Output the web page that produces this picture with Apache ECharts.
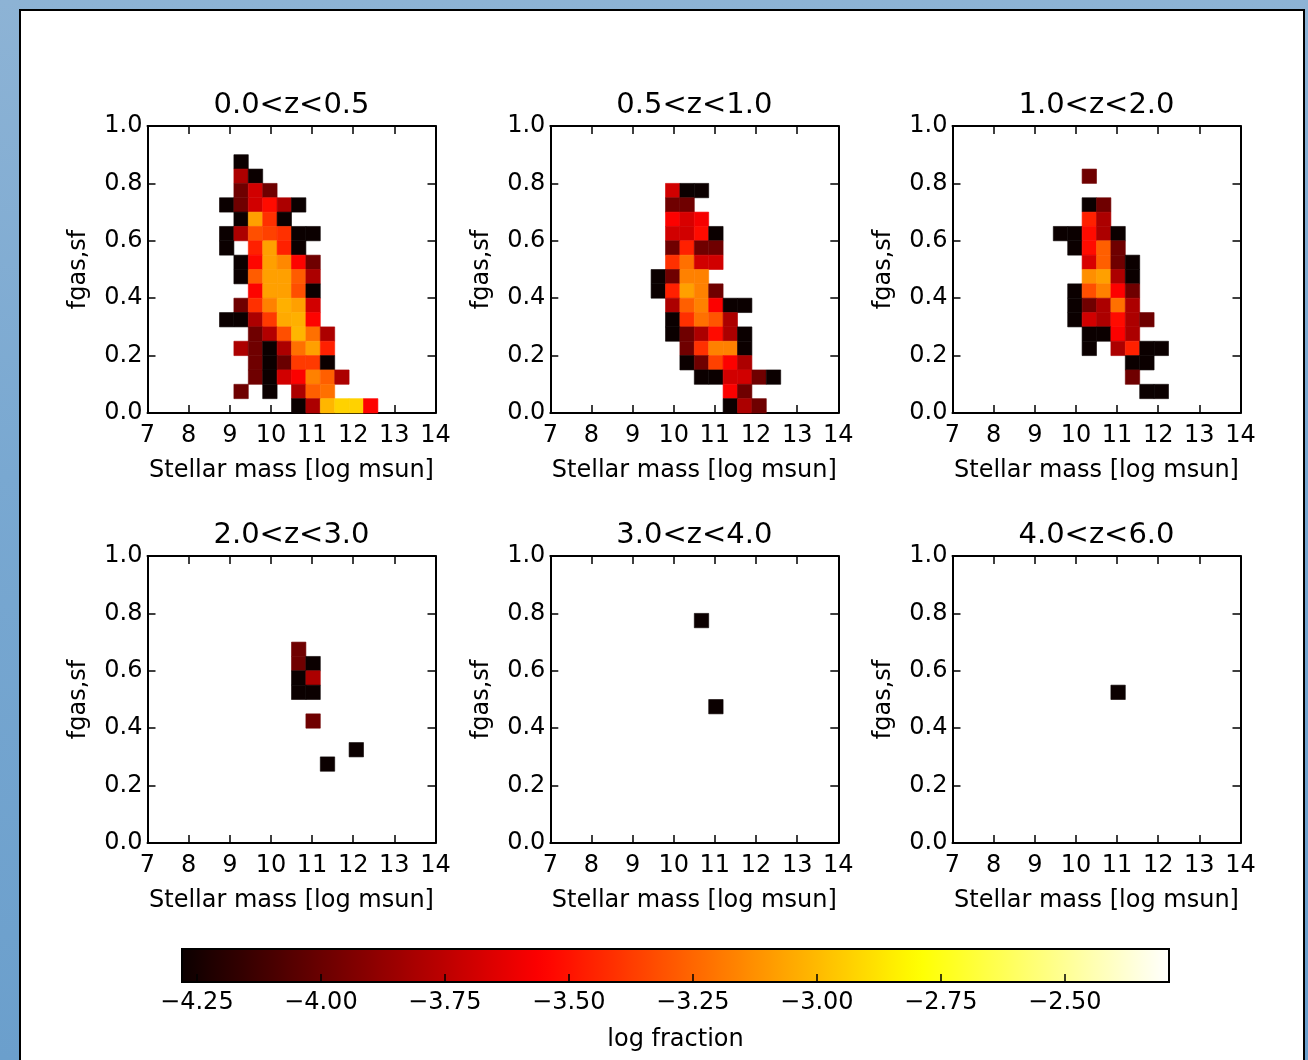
<!DOCTYPE html>
<html>
<head>
<meta charset="utf-8">
<title>Gas fraction vs stellar mass by redshift</title>
<script src="https://cdn.jsdelivr.net/npm/echarts@6/dist/echarts.min.js"></script>
<style>
  html, body { margin: 0; padding: 0; width: 1308px; height: 1060px; overflow: hidden; }
  body { background: linear-gradient(to bottom, #8db3d5 0%, #79a8d1 45%, #6b9fcc 100%); position: relative; }
  #sheet { position: absolute; left: 19px; top: 9px; width: 1282px; height: 1100px; background: #fff; border: 2.5px solid #000; }
  #chart { position: absolute; left: 0; top: 0; width: 1308px; height: 1060px; }
</style>
</head>
<body>
<div id="sheet"></div>
<div id="chart"></div>
<script>
// Histogram binning: stellar mass 7..14 in 20 bins, gas fraction 0..1 in 20 bins.
const MASS_MIN = 7, MASS_MAX = 14, MASS_BIN = 0.35;
const FGAS_MIN = 0, FGAS_MAX = 1, FGAS_BIN = 0.05;

// Colour scale limits (log fraction)
const LOGF_MIN = -4.28, LOGF_MAX = -2.29;
const colorbarTicks = [-4.25, -4.0, -3.75, -3.5, -3.25, -3.0, -2.75, -2.5];

const zBinLabels = ['0.0<z<0.5', '0.5<z<1.0', '1.0<z<2.0', '2.0<z<3.0', '3.0<z<4.0', '4.0<z<6.0'];

// Cells: [mass bin index, fgas bin index, log fraction]
const cellsZ0 = [
  [6,17,-4.28],
  [6,16,-3.80],[7,16,-4.28],
  [6,15,-3.98],[7,15,-3.69],[8,15,-3.98],
  [5,14,-4.28],[6,14,-3.98],[7,14,-3.69],[8,14,-3.52],[9,14,-3.80],[10,14,-4.28],
  [6,13,-4.28],[7,13,-3.08],[8,13,-3.41],[9,13,-4.28],
  [5,12,-4.28],[6,12,-3.80],[7,12,-3.32],[8,12,-3.36],[9,12,-3.41],[10,12,-4.28],[11,12,-4.28],
  [5,11,-4.28],[7,11,-3.46],[8,11,-3.08],[9,11,-3.46],[10,11,-4.28],
  [6,10,-4.28],[7,10,-3.54],[8,10,-3.08],[9,10,-3.15],[10,10,-3.55],[11,10,-3.98],
  [6,9,-4.28],[7,9,-3.28],[8,9,-3.08],[9,9,-3.08],[10,9,-3.28],[11,9,-3.80],
  [7,8,-3.55],[8,8,-3.08],[9,8,-3.08],[10,8,-3.32],[11,8,-4.28],
  [6,7,-3.98],[7,7,-3.41],[8,7,-3.17],[9,7,-3.03],[10,7,-3.08],[11,7,-3.69],
  [5,6,-4.28],[6,6,-4.28],[7,6,-3.80],[8,6,-3.38],[9,6,-3.05],[10,6,-3.03],[11,6,-3.55],
  [7,5,-3.98],[8,5,-3.78],[9,5,-3.32],[10,5,-3.01],[11,5,-3.22],[12,5,-3.80],
  [6,4,-3.80],[7,4,-3.98],[8,4,-4.28],[9,4,-3.80],[10,4,-3.22],[11,4,-3.08],[12,4,-3.46],
  [7,3,-3.98],[8,3,-4.28],[9,3,-4.00],[10,3,-3.38],[11,3,-3.38],[12,3,-4.28],
  [7,2,-3.98],[8,2,-4.28],[9,2,-3.69],[10,2,-3.56],[11,2,-3.17],[12,2,-3.27],[13,2,-3.80],
  [6,1,-3.98],[8,1,-4.28],[10,1,-3.80],[11,1,-3.27],[12,1,-3.22],
  [10,0,-4.28],[11,0,-3.80],[12,0,-3.01],[13,0,-2.93],[14,0,-2.93],[15,0,-3.55]
];

const cellsZ1 = [
  [8,15,-3.69],[9,15,-4.28],[10,15,-4.28],
  [8,14,-3.98],[9,14,-3.98],
  [8,13,-3.56],[9,13,-3.67],[10,13,-3.58],
  [8,12,-3.69],[9,12,-3.69],[10,12,-3.52],[11,12,-4.28],
  [8,11,-3.98],[9,11,-3.46],[10,11,-3.98],[11,11,-3.98],
  [8,10,-3.41],[9,10,-3.22],[10,10,-3.69],[11,10,-3.69],
  [7,9,-4.28],[8,9,-3.98],[9,9,-3.17],[10,9,-3.17],
  [7,8,-4.28],[8,8,-3.46],[9,8,-3.08],[10,8,-3.17],[11,8,-3.98],
  [8,7,-3.80],[9,7,-3.27],[10,7,-3.17],[11,7,-3.56],[12,7,-4.28],[13,7,-4.28],
  [8,6,-4.28],[9,6,-3.41],[10,6,-3.22],[11,6,-3.30],[12,6,-3.80],
  [8,5,-4.28],[9,5,-3.98],[10,5,-3.80],[11,5,-3.52],[12,5,-3.80],[13,5,-4.28],
  [9,4,-3.98],[10,4,-3.41],[11,4,-3.17],[12,4,-3.17],[13,4,-4.28],
  [9,3,-4.28],[10,3,-3.98],[11,3,-3.36],[12,3,-3.56],[13,3,-3.80],
  [10,2,-4.28],[11,2,-4.28],[12,2,-3.69],[13,2,-3.69],[14,2,-3.98],[15,2,-4.28],
  [12,1,-3.56],[13,1,-3.98],
  [12,0,-4.28],[13,0,-3.80],[14,0,-3.98]
];

const cellsZ2 = [
  [9,16,-3.98],
  [9,14,-4.28],[10,14,-3.98],
  [9,13,-3.46],[10,13,-3.80],
  [7,12,-4.28],[8,12,-4.28],[9,12,-3.52],[10,12,-3.80],[11,12,-4.28],
  [8,11,-4.28],[9,11,-3.52],[10,11,-3.27],[11,11,-3.98],
  [9,10,-3.67],[10,10,-3.27],[11,10,-3.98],[12,10,-4.28],
  [9,9,-3.13],[10,9,-3.08],[11,9,-3.80],[12,9,-4.28],
  [8,8,-4.28],[9,8,-3.32],[10,8,-3.17],[11,8,-3.56],[12,8,-3.98],
  [8,7,-4.28],[9,7,-3.98],[10,7,-3.80],[11,7,-3.22],[12,7,-3.80],
  [8,6,-4.28],[9,6,-3.69],[10,6,-3.80],[11,6,-3.52],[12,6,-3.80],[13,6,-3.98],
  [9,5,-4.28],[10,5,-4.28],[11,5,-3.56],[12,5,-3.80],
  [9,4,-4.28],[11,4,-3.80],[12,4,-3.46],[13,4,-4.28],[14,4,-4.28],
  [12,3,-4.28],[13,3,-4.28],
  [12,2,-3.98],
  [13,1,-4.28],[14,1,-4.28]
];

const cellsZ3 = [
  [10,13,-3.98],
  [10,12,-3.98],[11,12,-4.28],
  [10,11,-4.28],[11,11,-3.80],
  [10,10,-4.28],[11,10,-4.28],
  [11,8,-3.98],
  [14,6,-4.28],
  [12,5,-4.28]
];

const cellsZ4 = [
  [10,15,-4.28],
  [11,9,-4.28]
];

const cellsZ5 = [
  [11,10,-4.28]
];

const panelCells = [cellsZ0, cellsZ1, cellsZ2, cellsZ3, cellsZ4, cellsZ5];

// matplotlib "hot" colour map, sampled evenly for the visual map
function hotColor(t) {
  const lerp = (a, b, u) => a + (b - a) * u;
  const k1 = 0.365079, k2 = 0.746032;
  const r = t < k1 ? lerp(0.0416, 1, t / k1) : 1;
  const g = t < k1 ? 0 : (t < k2 ? (t - k1) / (k2 - k1) : 1);
  const b = t < k2 ? 0 : (t - k2) / (1 - k2);
  const h = v => Math.round(Math.max(0, Math.min(1, v)) * 255);
  return 'rgb(' + h(r) + ',' + h(g) + ',' + h(b) + ')';
}
const HOT_STEPS = 64;
const hotColors = [];
const hotStops = [];
for (let n = 0; n <= HOT_STEPS; n++) {
  const t = n / HOT_STEPS;
  hotColors.push(hotColor(t));
  hotStops.push({ offset: t, color: hotColor(t) });
}

const FONT = 'DejaVu Sans';
const panelLefts = [147.5, 550.3, 952.5];
const panelTops = [126, 556];
const PANEL_W = 288, PANEL_H = 287;

const grids = [], xAxes = [], yAxes = [], series = [], titles = [];

function tickStyle() {
  return { show: true, inside: true, length: 8, lineStyle: { color: '#000', width: 1.5 } };
}
function lineStyle() {
  return { show: true, onZero: false, lineStyle: { color: '#000', width: 2 } };
}

function renderCell(params, api) {
  const i = api.value(0), k = api.value(1);
  const x0 = MASS_MIN + i * MASS_BIN;
  const y0 = FGAS_MIN + k * FGAS_BIN;
  const pTL = api.coord([x0, y0 + FGAS_BIN]);
  const pBR = api.coord([x0 + MASS_BIN, y0]);
  const c = api.visual('color');
  return {
    type: 'rect',
    shape: { x: pTL[0], y: pTL[1], width: pBR[0] - pTL[0], height: pBR[1] - pTL[1] },
    style: { fill: c, stroke: c, lineWidth: 0.6 }
  };
}

for (let p = 0; p < 6; p++) {
  const left = panelLefts[p % 3];
  const top = panelTops[Math.floor(p / 3)];
  grids.push({ left: left, top: top, width: PANEL_W, height: PANEL_H, containLabel: false });

  xAxes.push({
    gridIndex: p, type: 'value', position: 'bottom', min: MASS_MIN, max: MASS_MAX, interval: 1,
    axisLine: lineStyle(), axisTick: tickStyle(), splitLine: { show: false },
    axisLabel: { show: true, margin: 11, color: '#000', fontFamily: FONT, fontSize: 24 },
    name: 'Stellar mass [log msun]', nameLocation: 'middle', nameGap: 46,
    nameTextStyle: { color: '#000', fontFamily: FONT, fontSize: 24 }
  });
  xAxes.push({
    gridIndex: p, type: 'value', position: 'top', min: MASS_MIN, max: MASS_MAX, interval: 1,
    axisLine: lineStyle(), axisTick: tickStyle(), splitLine: { show: false },
    axisLabel: { show: false }
  });
  yAxes.push({
    gridIndex: p, type: 'value', position: 'left', min: FGAS_MIN, max: FGAS_MAX, interval: 0.2,
    axisLine: lineStyle(), axisTick: tickStyle(), splitLine: { show: false },
    axisLabel: { show: true, margin: 5, color: '#000', fontFamily: FONT, fontSize: 24,
      formatter: v => v.toFixed(1) },
    name: 'fgas,sf', nameLocation: 'middle', nameGap: 57, nameRotate: 90,
    nameTextStyle: { color: '#000', fontFamily: FONT, fontSize: 24 }
  });
  yAxes.push({
    gridIndex: p, type: 'value', position: 'right', min: FGAS_MIN, max: FGAS_MAX, interval: 0.2,
    axisLine: lineStyle(), axisTick: tickStyle(), splitLine: { show: false },
    axisLabel: { show: false }
  });

  series.push({
    type: 'custom',
    name: zBinLabels[p],
    xAxisIndex: 2 * p,
    yAxisIndex: 2 * p,
    renderItem: renderCell,
    encode: { x: 0, y: 1 },
    dimensions: ['massBin', 'fgasBin', 'logFraction'],
    data: panelCells[p],
    z: 1,
    silent: true
  });

  titles.push({
    text: zBinLabels[p],
    left: left + PANEL_W / 2,
    top: top - 35,
    textAlign: 'center',
    padding: 0,
    textStyle: { color: '#000', fontFamily: FONT, fontSize: 29, fontWeight: 'normal' }
  });
}

// Colour bar
const CB = grids.length;
const minusFmt = v => (v < 0 ? '\u2212' : '') + Math.abs(v).toFixed(2);
grids.push({
  left: 182, top: 949, width: 987, height: 33, show: true,
  backgroundColor: new echarts.graphic.LinearGradient(0, 0, 1, 0, hotStops),
  borderColor: '#000', borderWidth: 2
});
xAxes.push({
  gridIndex: CB, type: 'value', position: 'bottom', min: LOGF_MIN, max: LOGF_MAX,
  axisLine: lineStyle(),
  axisTick: Object.assign(tickStyle(), { customValues: colorbarTicks }),
  axisLabel: { show: true, margin: 9, color: '#000', fontFamily: FONT, fontSize: 24,
    customValues: colorbarTicks, formatter: minusFmt },
  splitLine: { show: false },
  name: 'log fraction', nameLocation: 'middle', nameGap: 46,
  nameTextStyle: { color: '#000', fontFamily: FONT, fontSize: 24 }
});
yAxes.push({ gridIndex: CB, type: 'value', min: 0, max: 1, show: false });

const chart = echarts.init(document.getElementById('chart'), null, { renderer: 'canvas' });
chart.setOption({
  backgroundColor: 'transparent',
  animation: false,
  title: titles,
  grid: grids,
  xAxis: xAxes,
  yAxis: yAxes,
  visualMap: {
    type: 'continuous',
    show: false,
    dimension: 2,
    seriesIndex: [0, 1, 2, 3, 4, 5],
    min: LOGF_MIN,
    max: LOGF_MAX,
    inRange: { color: hotColors }
  },
  series: series
});
</script>
</body>
</html>
